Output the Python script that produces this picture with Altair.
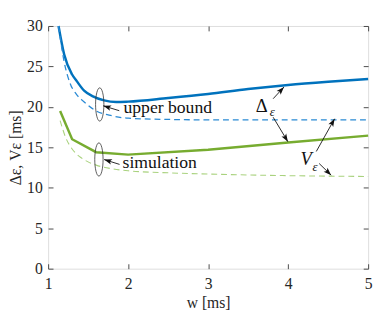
import math
import altair as alt
import pandas as pd

# ---------------- data ----------------
X_DOMAIN = [1, 5]
Y_DOMAIN = [0, 30]
X_TICKS = [1, 2, 3, 4, 5]
Y_TICKS = [0, 5, 10, 15, 20, 25, 30]

# upper bound, Delta_eps (blue solid)
w_ub_delta = [1.13, 1.2, 1.3, 1.36, 1.45, 1.56, 1.7, 1.85, 2.0, 2.5, 3.0, 3.5, 4.0, 4.5, 5.0]
ub_delta = [30.0, 26.5, 24.0, 23.15, 22.0, 21.3, 20.8, 20.6, 20.65, 21.1, 21.6, 22.2, 22.7, 23.1, 23.45]

# upper bound, V_eps (blue dashed)
w_ub_v = [1.13, 1.2, 1.275, 1.35, 1.44, 1.6, 1.8, 2.0, 2.5, 3.0, 4.0, 5.0]
ub_v = [30.0, 25.6, 22.9, 21.6, 20.7, 19.5, 18.9, 18.6, 18.45, 18.4, 18.4, 18.4]

# simulation, Delta_eps (green solid)
w_sim_delta = [1.15, 1.3, 1.6, 2.0, 3.0, 4.0, 5.0]
sim_delta = [19.5, 16.0, 14.4, 14.1, 14.7, 15.6, 16.45]

# simulation, V_eps (green dashed)
w_sim_v = [1.15, 1.22, 1.3, 1.4, 1.5, 1.6, 1.8, 2.0, 2.5, 3.0, 4.0, 5.0]
sim_v = [18.3, 16.2, 14.8, 13.8, 13.2, 12.8, 12.35, 12.1, 11.85, 11.7, 11.5, 11.4]

# annotations
ellipse_x = [1.645, 1.635]
ellipse_y = [20.3, 13.5]

arrow_tail_x = [1.889, 1.893, 3.813, 3.813, 4.352, 4.388]
arrow_tail_y = [19.53, 12.89, 21.01, 18.72, 14.49, 13.0]
arrow_tip_x = [1.69, 1.70, 3.948, 3.997, 4.581, 4.538]
arrow_tip_y = [20.13, 13.49, 22.45, 15.70, 18.53, 11.56]

label_text = ["upper bound", "simulation"]
label_x = [1.942, 1.93]
label_y = [19.9, 13.05]

delta_sym_x = [3.67]
delta_sym_y = [20.1]
v_sym_x = [4.225]
v_sym_y = [13.55]
eps_x = [3.80, 4.335]
eps_y = [19.35, 12.6]

# ---------------- styling ----------------
W, H = 327, 248
FONT = "Liberation Serif, Times New Roman, DejaVu Serif, serif"
AX = "#4a4a4a"
TXT = "#262626"
BLUE = "#0072BD"
BLUE_D = "#2a8ad4"
GREEN = "#77AC30"
GREEN_D = "#a9d27e"
TICK = 5

xs = alt.Scale(domain=X_DOMAIN, nice=False, zero=False)
ys = alt.Scale(domain=Y_DOMAIN, nice=False, zero=False)

# grid lines dashed so that only short inward ticks remain at both edges
ax_x = alt.Axis(orient="bottom", values=X_TICKS, ticks=False, tickSize=0, domain=False,
                grid=True, gridColor=AX, gridWidth=1, gridOpacity=1,
                gridDash=[TICK, H - 2 * TICK],
                labelFont=FONT, labelFontSize=16, labelPadding=7,
                labelColor=TXT, labelFlush=False, format="d",
                title="w [ms]", titleFont=FONT, titleFontSize=16,
                titleFontWeight="normal", titleColor=TXT, titleY=35,
                titleBaseline="middle")
ax_y = alt.Axis(orient="left", values=Y_TICKS, ticks=False, tickSize=0, domain=False,
                grid=True, gridColor=AX, gridWidth=1, gridOpacity=1,
                gridDash=[TICK, W - 2 * TICK],
                labelFont=FONT, labelFontSize=16, labelPadding=6,
                labelColor=TXT, labelFlush=False, format="d",
                title="Δε, Vε [ms]", titleFont=FONT, titleFontSize=16,
                titleFontWeight="normal", titleColor=TXT, titleX=-33,
                titleY=H / 2, titleAngle=270, titleBaseline="middle")

# ---------------- data frames ----------------
df_ub_delta = pd.DataFrame({"w": w_ub_delta, "v": ub_delta})
df_ub_v = pd.DataFrame({"w": w_ub_v, "v": ub_v})
df_sim_delta = pd.DataFrame({"w": w_sim_delta, "v": sim_delta})
df_sim_v = pd.DataFrame({"w": w_sim_v, "v": sim_v})

kx = W / (X_DOMAIN[1] - X_DOMAIN[0])
ky = H / (Y_DOMAIN[1] - Y_DOMAIN[0])
angles = []
for tx, ty, hx, hy in zip(arrow_tail_x, arrow_tail_y, arrow_tip_x, arrow_tip_y):
    dx = (hx - tx) * kx
    dy = -(hy - ty) * ky
    angles.append(math.degrees(math.atan2(dx, -dy)) % 360)

df_arrows = pd.DataFrame({"x": arrow_tail_x, "y": arrow_tail_y,
                          "x2": arrow_tip_x, "y2": arrow_tip_y, "angle": angles})
df_ell = pd.DataFrame({"x": ellipse_x, "y": ellipse_y})
df_labels = pd.DataFrame({"x": label_x, "y": label_y, "t": label_text})
df_delta = pd.DataFrame({"x": delta_sym_x, "y": delta_sym_y, "t": ["Δ"]})
df_vsym = pd.DataFrame({"x": v_sym_x, "y": v_sym_y, "t": ["V"]})
df_eps = pd.DataFrame({"x": eps_x, "y": eps_y, "t": ["ε", "ε"]})


def X(field="x", axis=None):
    if axis is None:
        return alt.X(f"{field}:Q", scale=xs, axis=None)
    return alt.X(f"{field}:Q", scale=xs, axis=axis)


def Y(field="y", axis=None):
    if axis is None:
        return alt.Y(f"{field}:Q", scale=ys, axis=None)
    return alt.Y(f"{field}:Q", scale=ys, axis=axis)


l_ub_delta = alt.Chart(df_ub_delta).mark_line(
    color=BLUE, strokeWidth=2.5, interpolate="monotone").encode(
    x=X("w", ax_x), y=Y("v", ax_y))
l_sim_v = alt.Chart(df_sim_v).mark_line(
    color=GREEN_D, strokeWidth=1.1, strokeDash=[6, 4], interpolate="monotone").encode(
    x=X("w"), y=Y("v"))
l_ub_v = alt.Chart(df_ub_v).mark_line(
    color=BLUE_D, strokeWidth=1.3, strokeDash=[6, 4], interpolate="monotone").encode(
    x=X("w"), y=Y("v"))
l_sim_delta = alt.Chart(df_sim_delta).mark_line(
    color=GREEN, strokeWidth=2.5).encode(x=X("w"), y=Y("v"))

ellipses = alt.Chart(df_ell).mark_point(
    shape="M0,-1 A0.25,1 0 1,1 0,1 A0.25,1 0 1,1 0,-1 Z",
    size=1156, filled=False, stroke="#333333", strokeWidth=0.8, opacity=1).encode(
    x=X(), y=Y())

arrow_lines = alt.Chart(df_arrows).mark_rule(color="#111111", strokeWidth=0.9).encode(
    x=X(), y=Y(), x2="x2:Q", y2="y2:Q")
arrow_heads = alt.Chart(df_arrows).mark_point(
    shape="M0,0 L0.7,2 L0,1.55 L-0.7,2 Z", size=64, filled=True,
    fill="#111111", strokeWidth=0, opacity=1).encode(
    x=X("x2"), y=Y("y2"), angle=alt.Angle("angle:Q", scale=None))

labels = alt.Chart(df_labels).mark_text(
    font=FONT, fontSize=18, align="left", baseline="middle", color="#111111").encode(
    x=X(), y=Y(), text="t:N")
delta_sym = alt.Chart(df_delta).mark_text(
    font=FONT, fontSize=19, align="center", baseline="middle", color="#111111").encode(
    x=X(), y=Y(), text="t:N")
v_sym = alt.Chart(df_vsym).mark_text(
    font=FONT, fontSize=19, fontStyle="italic", align="center", baseline="middle",
    color="#111111").encode(x=X(), y=Y(), text="t:N")
eps_sym = alt.Chart(df_eps).mark_text(
    font=FONT, fontSize=13, fontStyle="italic", align="center", baseline="middle",
    color="#111111").encode(x=X(), y=Y(), text="t:N")

chart = alt.layer(
    l_ub_delta, l_sim_v, l_ub_v, l_sim_delta, ellipses, arrow_lines, arrow_heads,
    labels, delta_sym, v_sym, eps_sym
).resolve_axis(x="independent", y="independent").properties(
    width=W, height=H,
    autosize=alt.AutoSizeParams(type="none"),
    padding={"left": 41, "top": 15, "right": 6, "bottom": 46},
).configure_view(stroke=AX, strokeWidth=1).configure(background="white")

chart.save("out.html", embed_options={"renderer": "svg", "actions": False})
